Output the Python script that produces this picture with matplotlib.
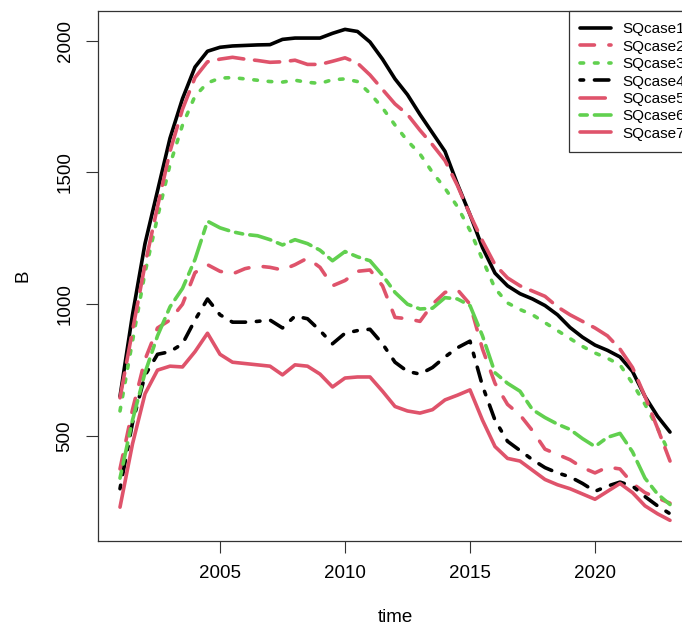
import numpy as np
import matplotlib.pyplot as plt

# half-yearly time steps 2001 - 2023
time = np.arange(2001, 2023.01, 0.5)

SQcase1 = [650, 960, 1230, 1430, 1630, 1780, 1900, 1960, 1975, 1980, 1982, 1984, 1985, 2005, 2010,
           2010, 2010, 2028, 2043, 2035, 1995, 1930, 1855, 1795, 1720, 1650, 1580, 1455, 1340, 1215,
           1118, 1070, 1040, 1020, 995, 960, 912, 875, 845, 825, 800, 745, 650, 575, 515]
SQcase2 = [375, 600, 790, 910, 940, 1000, 1120, 1150, 1125, 1115, 1135, 1145, 1140, 1130, 1150,
           1175, 1140, 1070, 1090, 1125, 1130, 1070, 950, 945, 935, 1000, 1045, 1055, 1000, 830,
           700, 620, 580, 520, 450, 430, 410, 380, 360, 382, 375, 320, 285, 265, 245]
SQcase3 = [595, 860, 1120, 1330, 1530, 1680, 1790, 1840, 1858, 1860, 1855, 1850, 1845, 1843, 1850,
           1842, 1838, 1852, 1855, 1845, 1800, 1745, 1680, 1620, 1570, 1500, 1440, 1370, 1280, 1170,
           1060, 1005, 980, 960, 930, 900, 870, 840, 815, 795, 770, 700, 620, 530, 430]
SQcase4 = [300, 550, 730, 810, 820, 850, 940, 1020, 960, 932, 932, 935, 940, 910, 955,
           945, 900, 850, 890, 900, 905, 850, 780, 745, 735, 760, 800, 835, 860, 690,
           560, 480, 445, 410, 380, 360, 345, 320, 290, 310, 325, 310, 270, 235, 205]
SQcase5 = [645, 900, 1150, 1370, 1580, 1740, 1860, 1920, 1930, 1937, 1930, 1925, 1918, 1920, 1926,
           1910, 1910, 1922, 1935, 1915, 1870, 1815, 1760, 1720, 1660, 1605, 1545, 1450, 1340, 1240,
           1150, 1100, 1070, 1050, 1030, 990, 960, 935, 910, 880, 830, 760, 650, 530, 405]
SQcase6 = [340, 560, 740, 880, 990, 1060, 1170, 1315, 1290, 1275, 1265, 1260, 1245, 1225, 1245,
           1230, 1205, 1165, 1200, 1180, 1165, 1110, 1045, 1000, 982, 985, 1025, 1020, 995, 880,
           740, 700, 670, 600, 570, 545, 525, 490, 460, 495, 510, 440, 340, 280, 240]
SQcase7 = [230, 470, 660, 750, 765, 762, 820, 890, 810, 780, 775, 770, 765, 732, 770,
           765, 735, 686, 720, 724, 724, 670, 612, 595, 587, 600, 637, 655, 675, 560,
           460, 415, 405, 370, 335, 315, 300, 280, 260, 290, 320, 285, 235, 205, 180]

series = [SQcase1, SQcase2, SQcase3, SQcase4, SQcase5, SQcase6, SQcase7]
labels = ['SQcase1', 'SQcase2', 'SQcase3', 'SQcase4', 'SQcase5', 'SQcase6', 'SQcase7']

# R style: col = 1:3 recycled, lty = 1:7
blk, red, grn = '#000000', '#DF536B', '#61D04F'
colors = [blk, red, grn, blk, red, grn, red]
dashes = [None, (4, 4), (1, 3), (1, 3, 4, 3), (7, 3), (2, 2, 6, 2), None]

plt.rcParams['font.family'] = ['Liberation Sans', 'DejaVu Sans']

fig = plt.figure(figsize=(6.82, 6.28), dpi=100)
# axes box runs past the right edge of the picture, like the original
ax = fig.add_axes([98 / 682, 87 / 628, 594 / 682, 530 / 628])

for y, lab, c, d in zip(series, labels, colors, dashes):
    line, = ax.plot(time, y, color=c, lw=2.6, label=lab,
                    solid_capstyle='round', dash_capstyle='round', solid_joinstyle='round')
    if d is not None:
        line.set_dashes(d)

ax.set_xlim(2000.12, 2023.88)
ax.set_ylim(101.6, 2112.7)
ax.set_xticks([2005, 2010, 2015, 2020])
ax.set_yticks([500, 1000, 1500, 2000])
ax.tick_params(direction='out', length=8.5, width=0.8, labelsize=13.5, pad=9, color='#333333')
plt.setp(ax.get_yticklabels(), rotation=90, va='center')
for s in ax.spines.values():
    s.set_linewidth(0.9)
    s.set_color('#333333')

ax.set_xlabel('time', fontsize=13.5, labelpad=19)
ax.set_ylabel('B', fontsize=13.5, labelpad=18)

# legend sticks out past the right side too (text is clipped in the original)
leg = ax.legend(loc='upper right', bbox_to_anchor=(1.007, 1.0), borderaxespad=0,
                fancybox=False, framealpha=1, edgecolor='#333333', fontsize=11,
                handlelength=2.0, handletextpad=0.75, labelspacing=0.22, borderpad=0.75)
leg.get_frame().set_linewidth(0.9)

fig.savefig('out.png', dpi=100)
